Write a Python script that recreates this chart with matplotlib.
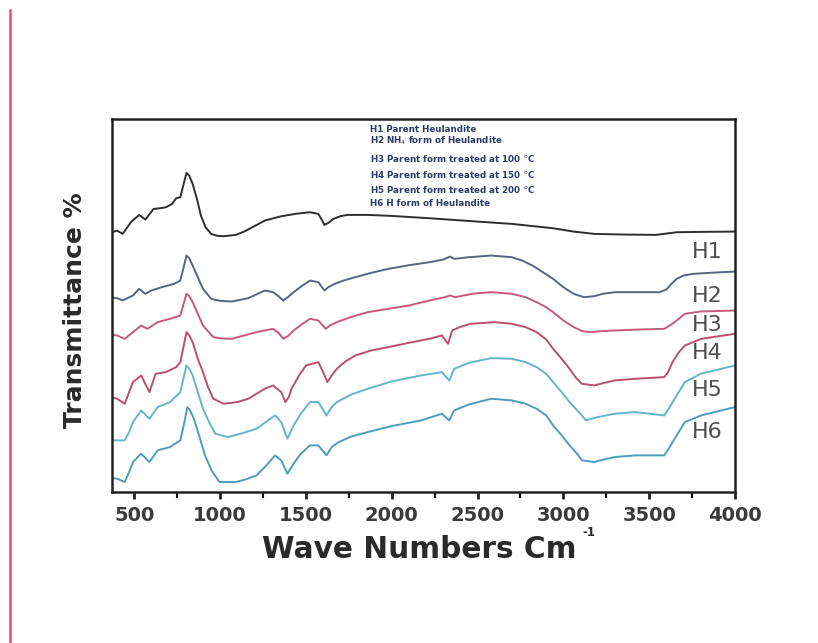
import numpy as np
import matplotlib
matplotlib.use("Agg")
import matplotlib.pyplot as plt
from matplotlib.lines import Line2D

plt.rcParams["font.family"] = ["DejaVu Sans"]

# FTIR spectra (wavenumber, transmittance in arbitrary units)
wn_h1 = [372, 400, 432, 480, 528, 564, 612, 650, 684, 720, 744, 768, 790, 804, 820,
         840, 865, 888, 915, 948, 985, 1020, 1092, 1140, 1188, 1260, 1356, 1450, 1524,
         1572, 1595, 1608, 1630, 1660, 1700, 1740, 1860, 2000, 2220, 2500, 2700, 2940,
         3060, 3180, 3360, 3540, 3600, 3660, 3800, 4000]
t_h1 = [78.0, 78.5, 77.5, 81.0, 83.2, 81.8, 85.0, 85.2, 85.5, 86.5, 88.2, 88.5, 93.0,
        95.8, 95.0, 92.5, 88.0, 83.0, 79.5, 77.5, 76.9, 76.8, 77.2, 78.2, 79.5, 81.5,
        82.8, 83.6, 84.0, 83.5, 81.5, 80.2, 80.8, 82.0, 82.8, 83.2, 83.2, 82.9, 82.2,
        81.2, 80.5, 79.2, 78.2, 77.5, 77.3, 77.2, 77.6, 78.0, 78.1, 78.2]

wn_h2 = [372, 400, 432, 492, 528, 564, 600, 660, 732, 768, 790, 804, 820, 840, 870,
         900, 948, 1000, 1068, 1164, 1260, 1308, 1340, 1368, 1395, 1428, 1480, 1524,
         1572, 1608, 1630, 1668, 1720, 1788, 1880, 1980, 2100, 2220, 2300, 2340, 2364,
         2450, 2580, 2700, 2760, 2820, 2880, 2940, 3000, 3060, 3120, 3180, 3228, 3300,
         3420, 3560, 3600, 3630, 3660, 3700, 3756, 3850, 4000]
t_h2 = [58.4, 58.2, 57.5, 59.0, 61.0, 59.5, 60.5, 61.5, 62.5, 63.5, 68.0, 71.0, 70.2,
        68.0, 64.5, 61.0, 58.0, 57.4, 57.2, 58.2, 60.5, 60.0, 58.8, 57.5, 58.5, 60.0,
        62.0, 63.5, 63.0, 60.5, 61.5, 62.5, 63.5, 64.5, 65.8, 67.0, 68.1, 69.0, 69.8,
        70.7, 70.0, 70.5, 71.0, 70.5, 69.5, 68.0, 66.0, 64.0, 61.5, 59.5, 58.5, 58.8,
        59.5, 60.0, 60.0, 60.0, 60.8, 62.5, 64.0, 65.0, 65.5, 65.8, 66.2]

wn_h3 = [372, 400, 444, 492, 540, 576, 636, 708, 768, 790, 804, 820, 840, 870, 900,
         960, 1010, 1068, 1140, 1212, 1308, 1340, 1368, 1395, 1428, 1480, 1524, 1572,
         1615, 1640, 1680, 1760, 1860, 1980, 2100, 2220, 2310, 2340, 2370, 2480, 2580,
         2700, 2780, 2844, 2900, 2940, 3000, 3060, 3110, 3156, 3220, 3300, 3450, 3588,
         3620, 3648, 3708, 3800, 4000]
t_h3 = [47.2, 47.0, 46.0, 48.0, 50.0, 49.0, 51.0, 52.0, 53.0, 57.0, 59.5, 58.8, 57.0,
        53.5, 50.0, 46.5, 46.1, 46.0, 47.0, 48.0, 49.0, 47.8, 46.0, 46.8, 48.5, 50.5,
        52.0, 51.5, 49.0, 50.0, 51.0, 52.5, 54.0, 55.0, 56.0, 57.5, 58.5, 59.0, 58.5,
        59.6, 60.0, 59.5, 58.5, 57.0, 55.5, 54.0, 51.5, 49.5, 48.3, 48.0, 48.3, 48.5,
        48.8, 49.0, 50.0, 51.0, 53.5, 54.2, 54.5]

wn_h4 = [372, 400, 444, 470, 492, 540, 588, 624, 684, 744, 768, 788, 804, 820, 840,
         870, 900, 930, 960, 1020, 1100, 1164, 1260, 1308, 1356, 1380, 1400, 1416, 1460,
         1500, 1572, 1600, 1625, 1650, 1680, 1730, 1788, 1880, 1980, 2100, 2220, 2292,
         2328, 2352, 2400, 2460, 2604, 2700, 2780, 2844, 2900, 2940, 2990, 3036, 3070,
         3108, 3180, 3240, 3300, 3420, 3588, 3610, 3636, 3670, 3708, 3804, 4000]
t_h4 = [28.5, 28.0, 26.5, 30.0, 33.0, 35.0, 30.0, 35.5, 36.0, 37.5, 39.0, 44.0, 48.0,
        47.0, 45.0, 40.0, 36.0, 31.5, 28.0, 26.5, 27.0, 28.0, 31.0, 32.0, 30.0, 27.0,
        28.5, 31.0, 35.0, 38.0, 39.0, 36.0, 33.0, 35.0, 37.0, 39.2, 41.0, 42.5, 43.5,
        44.8, 46.0, 47.0, 44.5, 48.5, 49.6, 50.5, 51.0, 50.5, 49.5, 48.0, 45.8, 43.0,
        40.0, 37.0, 34.5, 32.5, 32.0, 32.8, 33.5, 34.0, 34.5, 36.0, 39.0, 41.8, 44.0,
        46.0, 47.5]

wn_h5 = [372, 400, 444, 470, 492, 540, 588, 636, 708, 768, 788, 804, 820, 840, 870,
         900, 940, 972, 1044, 1120, 1212, 1320, 1356, 1392, 1410, 1428, 1470, 1524,
         1572, 1620, 1650, 1680, 1760, 1860, 2000, 2172, 2292, 2335, 2364, 2450, 2580,
         2700, 2780, 2844, 2900, 2940, 2990, 3036, 3090, 3132, 3200, 3300, 3420, 3588,
         3620, 3648, 3708, 3800, 4000]
t_h5 = [15.5, 15.5, 15.5, 18.0, 21.0, 24.5, 22.0, 25.5, 27.0, 30.0, 34.5, 38.0, 37.0,
        35.0, 30.0, 25.0, 20.5, 17.5, 16.5, 17.5, 19.0, 23.0, 21.0, 16.0, 18.0, 20.0,
        23.5, 27.0, 27.0, 23.0, 25.5, 27.0, 29.2, 31.0, 33.2, 35.0, 36.0, 33.5, 37.0,
        38.8, 40.2, 40.0, 39.0, 37.5, 35.5, 33.0, 30.0, 27.0, 24.0, 21.5, 22.5, 23.5,
        24.0, 23.0, 25.5, 28.0, 33.0, 35.5, 38.0]

wn_h6 = [372, 400, 444, 470, 492, 540, 588, 636, 708, 768, 790, 809, 825, 847, 880,
         912, 950, 996, 1092, 1150, 1212, 1270, 1320, 1356, 1392, 1410, 1428, 1470,
         1524, 1572, 1620, 1650, 1692, 1760, 1860, 2000, 2172, 2292, 2335, 2364, 2450,
         2580, 2700, 2780, 2844, 2900, 2940, 2990, 3036, 3080, 3108, 3180, 3240, 3300,
         3420, 3588, 3620, 3648, 3708, 3804, 4000]
t_h6 = [4.2, 4.0, 3.0, 6.0, 9.0, 11.5, 9.0, 12.5, 13.5, 15.5, 20.5, 25.5, 24.5, 22.0,
        16.5, 11.0, 6.5, 3.0, 3.0, 3.8, 5.0, 8.0, 11.0, 9.5, 5.5, 7.0, 8.5, 11.5, 14.0,
        14.0, 11.0, 13.5, 15.0, 16.6, 18.0, 19.8, 21.5, 23.5, 21.5, 24.5, 26.3, 28.0,
        27.5, 26.5, 25.0, 23.0, 20.0, 17.0, 14.0, 11.5, 9.5, 9.0, 9.8, 10.5, 11.0, 11.0,
        13.5, 16.0, 21.0, 23.0, 25.5]

names = ["H1", "H2", "H3", "H4", "H5", "H6"]
wns = [wn_h1, wn_h2, wn_h3, wn_h4, wn_h5, wn_h6]
ts = [t_h1, t_h2, t_h3, t_h4, t_h5, t_h6]
colors = ["#2e2e2e", "#58657f", "#c65a78", "#b9506a", "#66b4cc", "#4f9cbc"]
label_y = [72.0, 59.0, 50.0, 41.8, 30.7, 18.0]

legend_lines = [
    "H1 Parent Heulandite",
    "H2 NH$_4$ form of Heulandite",
    "H3 Parent form treated at 100 $^{o}$C",
    "H4 Parent form treated at 150 $^{o}$C",
    "H5 Parent form treated at 200 $^{o}$C",
    "H6 H form of Heulandite",
]
legend_py = [129, 141, 158, 175, 190, 204]

W, H = 818, 643
fig = plt.figure(figsize=(W / 100, H / 100), dpi=100)
ax = fig.add_axes([112 / W, 1 - 492 / H, 623 / W, 373 / H])

for name, wn, t, col, ly in zip(names, wns, ts, colors, label_y):
    ax.plot(wn, t, color=col, lw=1.4)
    ax.text(3837, ly, name, fontsize=16, color="#505050", ha="center", va="center")

for s, py in zip(legend_lines, legend_py):
    fig.text(370 / W, 1 - py / H, s, fontsize=6.3, fontweight="bold",
             color="#2c3a66", ha="left", va="center")

ax.set_xlim(370, 4000)
ax.set_ylim(0, 112)
ax.set_xticks(np.arange(500, 4001, 500))
ax.set_xticks(np.arange(750, 4000, 500), minor=True)
ax.set_yticks([])
ax.tick_params(axis="x", which="major", direction="out", length=5, width=2,
               labelsize=14, pad=5, colors="#222222")
ax.tick_params(axis="x", which="minor", direction="out", length=4, width=1.5)
for lab in ax.get_xticklabels():
    lab.set_fontweight("bold")
    lab.set_color("#3a3a3a")
for sp in ax.spines.values():
    sp.set_linewidth(1.8)
    sp.set_color("#222222")

# axis titles
fig.text(262 / W, 1 - 549 / H, "Wave Numbers Cm", fontsize=21.3, fontweight="bold",
         color="#2a2a2a", ha="left", va="center")
fig.text(582 / W, 1 - 533 / H, "-1", fontsize=8.5, fontweight="bold",
         color="#2a2a2a", ha="left", va="center")
fig.text(75 / W, 1 - 310 / H, "Transmittance %", fontsize=18, fontweight="bold",
         color="#2a2a2a", ha="center", va="center", rotation=90)

# page edge line of the scan
fig.add_artist(Line2D([10 / W, 10 / W], [0, 1 - 10 / H], transform=fig.transFigure,
                      color="#e0506e", lw=1.8))

fig.savefig("out.png", dpi=100)
